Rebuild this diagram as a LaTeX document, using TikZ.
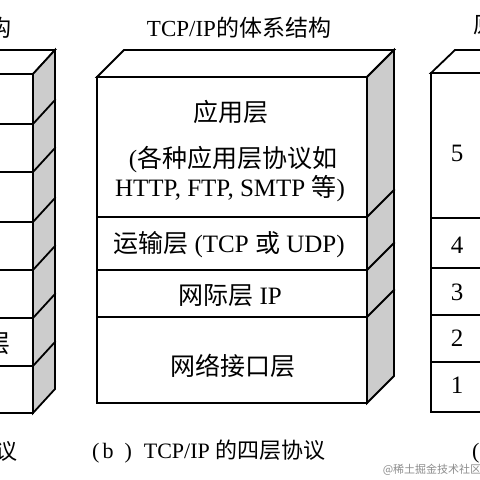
\documentclass[tikz,border=0pt]{standalone}
\usepackage{fontspec}
\setmainfont{Liberation Serif}
\newfontfamily\cjk{Noto Sans CJK SC}
\definecolor{sidegray}{RGB}{204,204,204}
\tikzset{
  edge/.style={line width=1.8pt, line join=miter, line cap=rect},
  sideface/.style={edge, fill=sidegray},
  topface/.style={edge, fill=white},
  body/.style={font=\fontsize{25}{30}\selectfont, inner sep=0pt},
  ttl/.style={font=\fontsize{23}{28}\selectfont, inner sep=0pt},
  capt/.style={font=\fontsize{22}{26}\selectfont, inner sep=0pt},
  wm/.style={font=\fontsize{11}{13}\selectfont, inner sep=0pt, text=black!45}
}
\begin{document}
\begin{tikzpicture}[x=1pt,y=-1pt]
\useasboundingbox (0,0) rectangle (480,480);
\clip (0,0) rectangle (480,480);
% ---------- left column (OSI) ----------
\draw[topface] (-150,74) -- (-128,50) -- (55,50) -- (33,74) -- cycle;
\draw[sideface] (33,74) -- (55,50) -- (55,389) -- (33,413) -- cycle;
\draw[edge] (-150,74) rectangle (33,413);
\foreach \y in {124,172,222,270,318,366}{
  \draw[edge] (-150,\y) -- (33,\y) -- (55,\y-24);
}
\node[ttl, anchor=east] (lt) at (12,28) {OSI {\cjk 的体系结构}};
\node[body, anchor=east] (ldl) at (11,343) {{\cjk 数据链路层}};
\node[capt, anchor=east] (lc) at (18,453) {(a) OSI {\cjk 的七层协议}};
% ---------- middle column (TCP/IP) ----------
\draw[topface] (97,77) -- (124,50) -- (394,50) -- (367,77) -- cycle;
\draw[sideface] (367,77) -- (394,50) -- (394,376) -- (367,403) -- cycle;
\draw[edge] (97,77) rectangle (367,403);
\foreach \y in {217,270,317}{
  \draw[edge] (97,\y) -- (367,\y) -- (394,\y-27);
}
\node[ttl] (mt) at (239,28) {TCP/IP{\cjk 的体系结构}};
\node[body] (app) at (231,112) {{\cjk 应用层}};
\node[body] (app2) at (233,160) {({\cjk 各种应用层协议如}};
\node[body] (app3) at (230,189) {HTTP, FTP, SMTP {\cjk 等})};
\node[body] (trans) at (229,245) {{\cjk 运输层} (TCP {\cjk 或} UDP)};
\node[body] (inet) at (230,296) {{\cjk 网际层} IP};
\node[body] (netif) at (233,366) {{\cjk 网络接口层}};
\node[capt, anchor=west] (mc) at (92,452) {(\hspace{3pt}b\hspace{11pt})\hspace{12pt}TCP/IP {\cjk 的四层协议}};
% ---------- right column (five layers) ----------
\draw[topface] (431,73) -- (455,50) -- (700,50) -- (676,73) -- cycle;
\draw[edge] (431,73) rectangle (676,412);
\foreach \y in {218,268,315,362}{
  \draw[edge] (431,\y) -- (676,\y);
}
\node[ttl, anchor=west] (rt) at (473,25) {{\cjk 原理体系结构}};
\node[body] (n5) at (457,153) {5};
\node[body] (n4) at (457,245) {4};
\node[body] (n3) at (457,292) {3};
\node[body] (n2) at (457,338) {2};
\node[body] (n1) at (457,385) {1};
\node[capt, anchor=west] (rc) at (472,452) {(c) {\cjk 五层协议}};
\node[wm] (wmark) at (432,470) {{\cjk @稀土掘金技术社区}};
\end{tikzpicture}
\end{document}
